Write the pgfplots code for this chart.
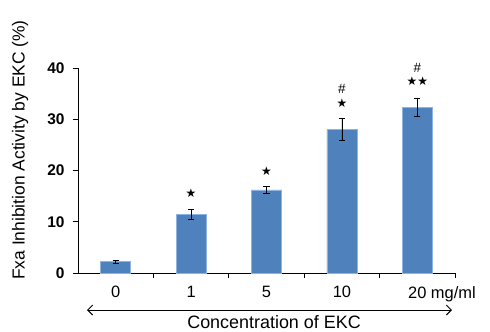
\documentclass[border=0pt]{standalone}
\usepackage{pgfplots}
\pgfplotsset{compat=1.18}
\usetikzlibrary{arrows.meta}
\usepackage{fontspec}
\setmainfont{Liberation Sans}
\newfontfamily\symfont{DejaVu Sans}
\definecolor{barblue}{HTML}{4F81BD}
\definecolor{baredge}{HTML}{8DB3E2}
\begin{document}
\begin{tikzpicture}
\begin{axis}[
  scale only axis,
  width=377bp, height=205bp,
  xmin=-0.5, xmax=4.5,
  ymin=0, ymax=40,
  axis x line*=bottom,
  axis y line*=left,
  axis line style={black, line width=0.9pt},
  clip=false,
  ytick={0,10,20,30,40},
  yticklabel style={font=\fontsize{15.5}{18}\selectfont\bfseries, xshift=-5bp},
  /pgf/number format/assume math mode=true,
  xtick={0.5,1.5,2.5,3.5,4.5},
  xticklabels={},
  tick align=outside,
  major tick length=5bp,
  tick style={black, line width=0.9pt},
  ylabel={Fxa Inhibition Activity by EKC (\%)},
  ylabel style={font=\fontsize{17.5}{20}\selectfont, at={(rel axis cs:0,0.6)}, anchor=center, yshift=58bp},
]
\path ([xshift=-78bp, yshift=-59bp]rel axis cs:0,0) rectangle ([xshift=35bp, yshift=68bp]rel axis cs:1,1);
\addplot[ybar, bar width=0.4, fill=barblue, draw=baredge, line width=0.6pt,
  error bars/.cd, y dir=both, y explicit,
  error bar style={black, line width=0.8pt},
  error mark options={rotate=90, mark size=3bp, black, line width=0.8pt}]
  coordinates {
    (0,2.2) +- (0,0.25)
    (1,11.5) +- (0,0.95)
    (2,16.2) +- (0,0.75)
    (3,28.0) +- (0,2.1)
    (4,32.3) +- (0,1.7)
  };
% category labels
\addplot[draw=none, mark=none, nodes near coords, point meta=explicit symbolic,
  every node near coord/.style={anchor=north, font=\fontsize{16.5}{19}\selectfont, yshift=-13bp, inner sep=0pt}]
  coordinates {
    (0,0) [0]
    (1,0) [1]
    (2,0) [5]
    (3,0) [10]
    (4,0) [{\phantom{ mg/ml}20 mg/ml}]
  };
% significance markers (stars)
\addplot[draw=none, mark=none, nodes near coords, point meta=explicit symbolic,
  every node near coord/.style={anchor=center, font=\symfont\fontsize{12}{13}\selectfont, inner sep=0pt}]
  coordinates {
    (1,15.6) [★]
    (2,19.9) [★]
    (3,33.1) [★]
    (4,37.4) [★★]
  };
% significance markers (hash)
\addplot[draw=none, mark=none, nodes near coords, point meta=explicit symbolic,
  every node near coord/.style={anchor=center, font=\fontsize{13.5}{15}\selectfont, inner sep=0pt}]
  coordinates {
    (3,36.0) [\#]
    (4,40.0) [\#]
  };
\draw[{Straight Barb[length=5bp,width=10bp]}-{Straight Barb[length=5bp,width=10bp]}, line width=0.9pt] ([xshift=9bp, yshift=-37bp]rel axis cs:0,0) -- ([xshift=-3bp, yshift=-37bp]rel axis cs:1,0);
\node[font=\fontsize{18}{21}\selectfont, anchor=center] at ([yshift=-49bp]rel axis cs:0.52,0) {Concentration of EKC};
\end{axis}
\end{tikzpicture}
\end{document}
